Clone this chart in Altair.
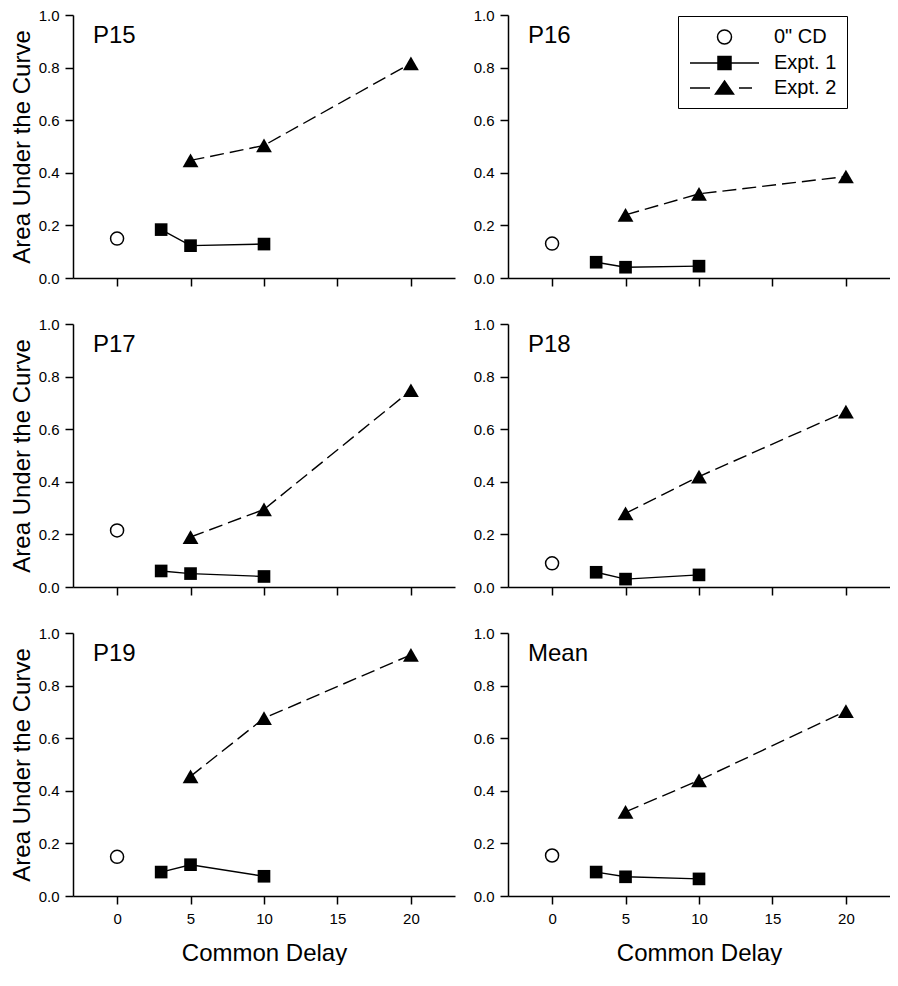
import altair as alt
import pandas as pd

# ---------------- data ----------------
panel_names = ["P15", "P16", "P17", "P18", "P19", "Mean"]
series_names = ['0" CD', "Expt. 1", "Expt. 2"]

cd_delays = [0]
cd_auc = [0.150, 0.131, 0.215, 0.090, 0.149, 0.154]

expt1_delays = [3, 5, 10]
expt1_p15 = [0.184, 0.123, 0.129]
expt1_p16 = [0.060, 0.041, 0.045]
expt1_p17 = [0.061, 0.051, 0.040]
expt1_p18 = [0.056, 0.030, 0.046]
expt1_p19 = [0.091, 0.119, 0.075]
expt1_mean = [0.091, 0.073, 0.065]

expt2_delays = [5, 10, 20]
expt2_p15 = [0.447, 0.504, 0.816]
expt2_p16 = [0.240, 0.320, 0.386]
expt2_p17 = [0.190, 0.295, 0.748]
expt2_p18 = [0.280, 0.420, 0.667]
expt2_p19 = [0.455, 0.676, 0.917]
expt2_mean = [0.320, 0.440, 0.703]

expt1_auc = [expt1_p15, expt1_p16, expt1_p17, expt1_p18, expt1_p19, expt1_mean]
expt2_auc = [expt2_p15, expt2_p16, expt2_p17, expt2_p18, expt2_p19, expt2_mean]

x_ticks = [0, 5, 10, 15, 20]
y_ticks = [0.0, 0.2, 0.4, 0.6, 0.8, 1.0]

# legend symbols (line + marker) as custom SVG paths
legend_symbols = [
    "M3.25,0A0.7,0.7,0,1,1,1.85,0A0.7,0.7,0,1,1,3.25,0Z",
    "M-0.9,0H6M1.9,-0.65H3.2V0.65H1.9Z",
    "M-0.9,0H1.1M4.0,0H5.3M2.55,-0.7L3.45,0.6L1.65,0.6Z",
]
legend_fills = ["white", "black", "black"]
legend_strokes = ["black", "black", "black"]

FONT = "Liberation Sans"
W, H = 382, 263


def make_panel(idx):
    name = panel_names[idx]
    d_cd = pd.DataFrame({"delay": cd_delays, "auc": [cd_auc[idx]], "series": series_names[0]})
    d1 = pd.DataFrame({"delay": expt1_delays, "auc": expt1_auc[idx], "series": series_names[1]})
    d2 = pd.DataFrame({"delay": expt2_delays, "auc": expt2_auc[idx], "series": series_names[2]})
    bottom = idx >= 4
    left = idx % 2 == 0

    x = alt.X(
        "delay:Q",
        scale=alt.Scale(domain=[-3, 23], nice=False, zero=False),
        axis=alt.Axis(values=x_ticks, labels=bottom,
                      title="Common Delay" if bottom else None),
    )
    y = alt.Y(
        "auc:Q",
        scale=alt.Scale(domain=[0, 1], nice=False),
        axis=alt.Axis(values=y_ticks, format=".1f",
                      title="Area Under the Curve" if left else None),
    )

    line1 = alt.Chart(d1).mark_line(color="black", strokeWidth=1.4).encode(x=x, y=y)
    line2 = alt.Chart(d2).mark_line(color="black", strokeWidth=1.4,
                                    strokeDash=[14, 6]).encode(x=x, y=y)
    pts1 = alt.Chart(d1).mark_point(shape="square", filled=True, size=160,
                                    color="black", opacity=1).encode(x=x, y=y)
    pts2 = alt.Chart(d2).mark_point(shape="triangle-up", filled=True, size=250,
                                    color="black", opacity=1).encode(x=x, y=y)
    cd = alt.Chart(d_cd).mark_point(shape="circle", filled=False, size=170,
                                    color="black", strokeWidth=1.5,
                                    opacity=1).encode(x=x, y=y)
    layers = [line1, line2, pts1, pts2, cd]

    if name == "P16":
        d_all = pd.concat([d_cd, d1, d2], ignore_index=True)
        leg_kw = dict(orient="none", legendX=170, legendY=1, title=None,
                      symbolSize=400, symbolStrokeWidth=1.5, symbolOpacity=1,
                      labelFont=FONT, labelFontSize=20, labelColor="black",
                      labelOffset=64, padding=10, rowPadding=4,
                      strokeColor="black", fillColor="white")
        leg = alt.Chart(d_all).mark_point(filled=True, size=0, opacity=1).encode(
            x=x, y=y,
            shape=alt.Shape("series:N",
                            scale=alt.Scale(domain=series_names, range=legend_symbols),
                            legend=alt.Legend(**leg_kw)),
            fill=alt.Fill("series:N",
                          scale=alt.Scale(domain=series_names, range=legend_fills),
                          legend=alt.Legend(**leg_kw)),
            stroke=alt.Stroke("series:N",
                              scale=alt.Scale(domain=series_names, range=legend_strokes),
                              legend=alt.Legend(**leg_kw)),
        )
        layers.append(leg)

    return alt.layer(*layers).properties(
        width=W, height=H,
        title=alt.TitleParams(name, anchor="start", frame="group", dx=20, dy=0,
                              offset=-40, baseline="top", fontSize=24,
                              fontWeight="normal", font=FONT, color="black"),
    )


panels = [make_panel(i) for i in range(len(panel_names))]

chart = (
    alt.concat(*panels, columns=2, spacing={"row": 46, "column": 53}, bounds="flush")
    .resolve_scale(shape="independent", fill="independent", stroke="independent")
    .resolve_legend(shape="independent", fill="independent", stroke="independent")
    .properties(padding={"left": 2, "top": 0, "right": 0, "bottom": 0})
    .configure_view(strokeWidth=0)
    .configure_axis(grid=False, labelFont=FONT, titleFont=FONT, labelFontSize=15,
                    titleFontSize=24, titleFontWeight="normal", labelColor="black",
                    titleColor="black", domainColor="black", tickColor="black",
                    domainWidth=1.5, tickWidth=1.5, tickSize=8, labelFlush=False)
    .configure_axisX(labelPadding=7, titlePadding=15)
    .configure_axisY(labelPadding=6, titlePadding=4)
)

chart.save("out.html", embed_options={"renderer": "svg", "actions": False})
